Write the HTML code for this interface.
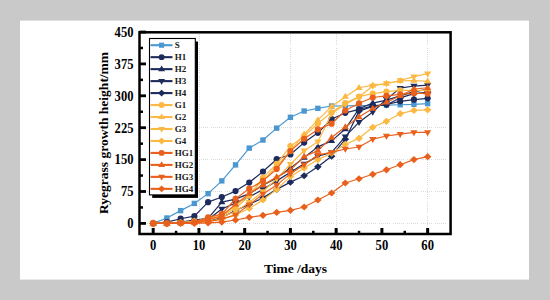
<!DOCTYPE html>
<html><head><meta charset="utf-8"><style>
html,body{margin:0;padding:0;width:550px;height:300px;overflow:hidden;background:#c9c9c9;}
svg{display:block;}
</style></head><body><svg width="550" height="300" viewBox="0 0 550 300"><rect x="0" y="0" width="550" height="300" fill="#c9c9c9"/><rect x="20" y="20.6" width="509" height="259" fill="#fff"/><g stroke="#dadada" stroke-width="1" stroke-dasharray="1 1 1 1 1 1 1 1 1 1 1 3"><line x1="199.5" y1="34" x2="199.5" y2="233"/><line x1="290.5" y1="34" x2="290.5" y2="233"/><line x1="336.5" y1="34" x2="336.5" y2="233"/><line x1="427.5" y1="34" x2="427.5" y2="233"/><line x1="141" y1="127.5" x2="449" y2="127.5"/><line x1="141" y1="159.5" x2="449" y2="159.5"/><line x1="141" y1="191.5" x2="449" y2="191.5"/><line x1="141" y1="223.5" x2="449" y2="223.5"/></g><polyline points="153.20,223.40 166.92,218.00 180.64,210.64 194.37,203.41 208.09,193.63 221.81,180.87 235.53,164.92 249.25,148.12 262.98,140.04 276.70,128.13 290.42,117.29 304.14,110.99 317.86,108.36 331.59,106.02 345.31,105.80 359.03,105.59 372.75,105.59 386.47,105.17 400.20,104.74 413.92,104.32 427.64,103.59" fill="none" stroke="#4b97d0" stroke-width="1.2" stroke-linejoin="round"/><rect x="150.50" y="220.70" width="5.40" height="5.40" fill="#4b97d0"/><rect x="164.22" y="215.30" width="5.40" height="5.40" fill="#4b97d0"/><rect x="177.94" y="207.94" width="5.40" height="5.40" fill="#4b97d0"/><rect x="191.67" y="200.71" width="5.40" height="5.40" fill="#4b97d0"/><rect x="205.39" y="190.93" width="5.40" height="5.40" fill="#4b97d0"/><rect x="219.11" y="178.17" width="5.40" height="5.40" fill="#4b97d0"/><rect x="232.83" y="162.22" width="5.40" height="5.40" fill="#4b97d0"/><rect x="246.55" y="145.42" width="5.40" height="5.40" fill="#4b97d0"/><rect x="260.28" y="137.34" width="5.40" height="5.40" fill="#4b97d0"/><rect x="274.00" y="125.43" width="5.40" height="5.40" fill="#4b97d0"/><rect x="287.72" y="114.59" width="5.40" height="5.40" fill="#4b97d0"/><rect x="301.44" y="108.29" width="5.40" height="5.40" fill="#4b97d0"/><rect x="315.16" y="105.66" width="5.40" height="5.40" fill="#4b97d0"/><rect x="328.89" y="103.32" width="5.40" height="5.40" fill="#4b97d0"/><rect x="342.61" y="103.10" width="5.40" height="5.40" fill="#4b97d0"/><rect x="356.33" y="102.89" width="5.40" height="5.40" fill="#4b97d0"/><rect x="370.05" y="102.89" width="5.40" height="5.40" fill="#4b97d0"/><rect x="383.77" y="102.47" width="5.40" height="5.40" fill="#4b97d0"/><rect x="397.50" y="102.04" width="5.40" height="5.40" fill="#4b97d0"/><rect x="411.22" y="101.62" width="5.40" height="5.40" fill="#4b97d0"/><rect x="424.94" y="100.89" width="5.40" height="5.40" fill="#4b97d0"/><polyline points="153.20,223.40 166.92,222.12 180.64,218.72 194.37,216.17 208.09,202.13 221.81,197.03 235.53,191.08 249.25,182.57 262.98,171.51 276.70,159.18 290.42,154.50 304.14,142.59 317.86,132.81 331.59,119.20 345.31,112.82 359.03,109.42 372.75,106.02 386.47,104.32 400.20,101.34 413.92,99.64 427.64,98.36" fill="none" stroke="#1c2b5c" stroke-width="1.2" stroke-linejoin="round"/><circle cx="153.20" cy="223.40" r="3.10" fill="#1c2b5c"/><circle cx="166.92" cy="222.12" r="3.10" fill="#1c2b5c"/><circle cx="180.64" cy="218.72" r="3.10" fill="#1c2b5c"/><circle cx="194.37" cy="216.17" r="3.10" fill="#1c2b5c"/><circle cx="208.09" cy="202.13" r="3.10" fill="#1c2b5c"/><circle cx="221.81" cy="197.03" r="3.10" fill="#1c2b5c"/><circle cx="235.53" cy="191.08" r="3.10" fill="#1c2b5c"/><circle cx="249.25" cy="182.57" r="3.10" fill="#1c2b5c"/><circle cx="262.98" cy="171.51" r="3.10" fill="#1c2b5c"/><circle cx="276.70" cy="159.18" r="3.10" fill="#1c2b5c"/><circle cx="290.42" cy="154.50" r="3.10" fill="#1c2b5c"/><circle cx="304.14" cy="142.59" r="3.10" fill="#1c2b5c"/><circle cx="317.86" cy="132.81" r="3.10" fill="#1c2b5c"/><circle cx="331.59" cy="119.20" r="3.10" fill="#1c2b5c"/><circle cx="345.31" cy="112.82" r="3.10" fill="#1c2b5c"/><circle cx="359.03" cy="109.42" r="3.10" fill="#1c2b5c"/><circle cx="372.75" cy="106.02" r="3.10" fill="#1c2b5c"/><circle cx="386.47" cy="104.32" r="3.10" fill="#1c2b5c"/><circle cx="400.20" cy="101.34" r="3.10" fill="#1c2b5c"/><circle cx="413.92" cy="99.64" r="3.10" fill="#1c2b5c"/><circle cx="427.64" cy="98.36" r="3.10" fill="#1c2b5c"/><polyline points="153.20,223.40 166.92,223.40 180.64,222.12 194.37,220.00 208.09,218.30 221.81,202.13 235.53,199.16 249.25,193.63 262.98,185.12 276.70,177.89 290.42,168.11 304.14,157.48 317.86,146.85 331.59,140.89 345.31,128.98 359.03,108.57 372.75,103.04 386.47,100.06 400.20,95.81 413.92,91.56 427.64,89.43" fill="none" stroke="#1c2b5c" stroke-width="1.2" stroke-linejoin="round"/><path d="M153.20 219.60L156.80 225.60L149.60 225.60Z" fill="#1c2b5c"/><path d="M166.92 219.60L170.52 225.60L163.32 225.60Z" fill="#1c2b5c"/><path d="M180.64 218.32L184.24 224.32L177.04 224.32Z" fill="#1c2b5c"/><path d="M194.37 216.20L197.97 222.20L190.77 222.20Z" fill="#1c2b5c"/><path d="M208.09 214.50L211.69 220.50L204.49 220.50Z" fill="#1c2b5c"/><path d="M221.81 198.33L225.41 204.33L218.21 204.33Z" fill="#1c2b5c"/><path d="M235.53 195.36L239.13 201.36L231.93 201.36Z" fill="#1c2b5c"/><path d="M249.25 189.83L252.85 195.83L245.65 195.83Z" fill="#1c2b5c"/><path d="M262.98 181.32L266.58 187.32L259.38 187.32Z" fill="#1c2b5c"/><path d="M276.70 174.09L280.30 180.09L273.10 180.09Z" fill="#1c2b5c"/><path d="M290.42 164.31L294.02 170.31L286.82 170.31Z" fill="#1c2b5c"/><path d="M304.14 153.68L307.74 159.68L300.54 159.68Z" fill="#1c2b5c"/><path d="M317.86 143.05L321.46 149.05L314.26 149.05Z" fill="#1c2b5c"/><path d="M331.59 137.09L335.19 143.09L327.99 143.09Z" fill="#1c2b5c"/><path d="M345.31 125.18L348.91 131.18L341.71 131.18Z" fill="#1c2b5c"/><path d="M359.03 104.77L362.63 110.77L355.43 110.77Z" fill="#1c2b5c"/><path d="M372.75 99.24L376.35 105.24L369.15 105.24Z" fill="#1c2b5c"/><path d="M386.47 96.26L390.07 102.26L382.87 102.26Z" fill="#1c2b5c"/><path d="M400.20 92.01L403.80 98.01L396.60 98.01Z" fill="#1c2b5c"/><path d="M413.92 87.76L417.52 93.76L410.32 93.76Z" fill="#1c2b5c"/><path d="M427.64 85.63L431.24 91.63L424.04 91.63Z" fill="#1c2b5c"/><polyline points="153.20,223.40 166.92,223.40 180.64,222.55 194.37,220.85 208.09,219.57 221.81,208.94 235.53,202.99 249.25,197.03 262.98,189.38 276.70,180.87 290.42,172.36 304.14,163.86 317.86,156.20 331.59,152.37 345.31,136.64 359.03,122.18 372.75,111.97 386.47,99.21 400.20,88.15 413.92,86.03 427.64,85.18" fill="none" stroke="#1c2b5c" stroke-width="1.2" stroke-linejoin="round"/><path d="M153.20 227.20L156.80 221.20L149.60 221.20Z" fill="#1c2b5c"/><path d="M166.92 227.20L170.52 221.20L163.32 221.20Z" fill="#1c2b5c"/><path d="M180.64 226.35L184.24 220.35L177.04 220.35Z" fill="#1c2b5c"/><path d="M194.37 224.65L197.97 218.65L190.77 218.65Z" fill="#1c2b5c"/><path d="M208.09 223.37L211.69 217.37L204.49 217.37Z" fill="#1c2b5c"/><path d="M221.81 212.74L225.41 206.74L218.21 206.74Z" fill="#1c2b5c"/><path d="M235.53 206.79L239.13 200.79L231.93 200.79Z" fill="#1c2b5c"/><path d="M249.25 200.83L252.85 194.83L245.65 194.83Z" fill="#1c2b5c"/><path d="M262.98 193.18L266.58 187.18L259.38 187.18Z" fill="#1c2b5c"/><path d="M276.70 184.67L280.30 178.67L273.10 178.67Z" fill="#1c2b5c"/><path d="M290.42 176.16L294.02 170.16L286.82 170.16Z" fill="#1c2b5c"/><path d="M304.14 167.66L307.74 161.66L300.54 161.66Z" fill="#1c2b5c"/><path d="M317.86 160.00L321.46 154.00L314.26 154.00Z" fill="#1c2b5c"/><path d="M331.59 156.17L335.19 150.17L327.99 150.17Z" fill="#1c2b5c"/><path d="M345.31 140.44L348.91 134.44L341.71 134.44Z" fill="#1c2b5c"/><path d="M359.03 125.98L362.63 119.98L355.43 119.98Z" fill="#1c2b5c"/><path d="M372.75 115.77L376.35 109.77L369.15 109.77Z" fill="#1c2b5c"/><path d="M386.47 103.01L390.07 97.01L382.87 97.01Z" fill="#1c2b5c"/><path d="M400.20 91.95L403.80 85.95L396.60 85.95Z" fill="#1c2b5c"/><path d="M413.92 89.83L417.52 83.83L410.32 83.83Z" fill="#1c2b5c"/><path d="M427.64 88.98L431.24 82.98L424.04 82.98Z" fill="#1c2b5c"/><polyline points="153.20,223.40 166.92,223.40 180.64,222.55 194.37,221.70 208.09,221.27 221.81,217.45 235.53,210.64 249.25,204.26 262.98,197.88 276.70,189.38 290.42,182.15 304.14,175.77 317.86,166.84 331.59,156.20 345.31,139.19 359.03,111.12 372.75,106.44 386.47,104.74 400.20,97.94 413.92,93.68 427.64,92.41" fill="none" stroke="#1c2b5c" stroke-width="1.2" stroke-linejoin="round"/><path d="M153.20 219.80L157.00 223.40L153.20 227.00L149.40 223.40Z" fill="#1c2b5c"/><path d="M166.92 219.80L170.72 223.40L166.92 227.00L163.12 223.40Z" fill="#1c2b5c"/><path d="M180.64 218.95L184.44 222.55L180.64 226.15L176.84 222.55Z" fill="#1c2b5c"/><path d="M194.37 218.10L198.17 221.70L194.37 225.30L190.57 221.70Z" fill="#1c2b5c"/><path d="M208.09 217.67L211.89 221.27L208.09 224.87L204.29 221.27Z" fill="#1c2b5c"/><path d="M221.81 213.85L225.61 217.45L221.81 221.05L218.01 217.45Z" fill="#1c2b5c"/><path d="M235.53 207.04L239.33 210.64L235.53 214.24L231.73 210.64Z" fill="#1c2b5c"/><path d="M249.25 200.66L253.05 204.26L249.25 207.86L245.45 204.26Z" fill="#1c2b5c"/><path d="M262.98 194.28L266.78 197.88L262.98 201.48L259.18 197.88Z" fill="#1c2b5c"/><path d="M276.70 185.78L280.50 189.38L276.70 192.98L272.90 189.38Z" fill="#1c2b5c"/><path d="M290.42 178.55L294.22 182.15L290.42 185.75L286.62 182.15Z" fill="#1c2b5c"/><path d="M304.14 172.17L307.94 175.77L304.14 179.37L300.34 175.77Z" fill="#1c2b5c"/><path d="M317.86 163.24L321.66 166.84L317.86 170.44L314.06 166.84Z" fill="#1c2b5c"/><path d="M331.59 152.60L335.39 156.20L331.59 159.80L327.79 156.20Z" fill="#1c2b5c"/><path d="M345.31 135.59L349.11 139.19L345.31 142.79L341.51 139.19Z" fill="#1c2b5c"/><path d="M359.03 107.52L362.83 111.12L359.03 114.72L355.23 111.12Z" fill="#1c2b5c"/><path d="M372.75 102.84L376.55 106.44L372.75 110.04L368.95 106.44Z" fill="#1c2b5c"/><path d="M386.47 101.14L390.27 104.74L386.47 108.34L382.67 104.74Z" fill="#1c2b5c"/><path d="M400.20 94.34L404.00 97.94L400.20 101.54L396.40 97.94Z" fill="#1c2b5c"/><path d="M413.92 90.08L417.72 93.68L413.92 97.28L410.12 93.68Z" fill="#1c2b5c"/><path d="M427.64 88.81L431.44 92.41L427.64 96.01L423.84 92.41Z" fill="#1c2b5c"/><polyline points="153.20,223.40 166.92,223.40 180.64,222.55 194.37,221.27 208.09,219.15 221.81,215.74 235.53,208.51 249.25,195.76 262.98,177.60 276.70,163.86 290.42,146.21 304.14,136.21 317.86,123.45 331.59,112.40 345.31,103.04 359.03,96.66 372.75,93.68 386.47,91.56 400.20,90.28 413.92,90.28 427.64,90.28" fill="none" stroke="#fbb843" stroke-width="1.2" stroke-linejoin="round"/><circle cx="153.20" cy="223.40" r="3.10" fill="#fbb843"/><circle cx="166.92" cy="223.40" r="3.10" fill="#fbb843"/><circle cx="180.64" cy="222.55" r="3.10" fill="#fbb843"/><circle cx="194.37" cy="221.27" r="3.10" fill="#fbb843"/><circle cx="208.09" cy="219.15" r="3.10" fill="#fbb843"/><circle cx="221.81" cy="215.74" r="3.10" fill="#fbb843"/><circle cx="235.53" cy="208.51" r="3.10" fill="#fbb843"/><circle cx="249.25" cy="195.76" r="3.10" fill="#fbb843"/><circle cx="262.98" cy="177.60" r="3.10" fill="#fbb843"/><circle cx="276.70" cy="163.86" r="3.10" fill="#fbb843"/><circle cx="290.42" cy="146.21" r="3.10" fill="#fbb843"/><circle cx="304.14" cy="136.21" r="3.10" fill="#fbb843"/><circle cx="317.86" cy="123.45" r="3.10" fill="#fbb843"/><circle cx="331.59" cy="112.40" r="3.10" fill="#fbb843"/><circle cx="345.31" cy="103.04" r="3.10" fill="#fbb843"/><circle cx="359.03" cy="96.66" r="3.10" fill="#fbb843"/><circle cx="372.75" cy="93.68" r="3.10" fill="#fbb843"/><circle cx="386.47" cy="91.56" r="3.10" fill="#fbb843"/><circle cx="400.20" cy="90.28" r="3.10" fill="#fbb843"/><circle cx="413.92" cy="90.28" r="3.10" fill="#fbb843"/><circle cx="427.64" cy="90.28" r="3.10" fill="#fbb843"/><polyline points="153.20,223.40 166.92,223.40 180.64,222.55 194.37,221.27 208.09,218.30 221.81,214.04 235.53,206.39 249.25,193.63 262.98,180.87 276.70,165.98 290.42,151.10 304.14,134.21 317.86,120.05 331.59,106.44 345.31,96.66 359.03,87.73 372.75,85.18 386.47,83.48 400.20,80.92 413.92,80.50 427.64,81.35" fill="none" stroke="#fbb843" stroke-width="1.2" stroke-linejoin="round"/><path d="M153.20 219.60L156.80 225.60L149.60 225.60Z" fill="#fbb843"/><path d="M166.92 219.60L170.52 225.60L163.32 225.60Z" fill="#fbb843"/><path d="M180.64 218.75L184.24 224.75L177.04 224.75Z" fill="#fbb843"/><path d="M194.37 217.47L197.97 223.47L190.77 223.47Z" fill="#fbb843"/><path d="M208.09 214.50L211.69 220.50L204.49 220.50Z" fill="#fbb843"/><path d="M221.81 210.24L225.41 216.24L218.21 216.24Z" fill="#fbb843"/><path d="M235.53 202.59L239.13 208.59L231.93 208.59Z" fill="#fbb843"/><path d="M249.25 189.83L252.85 195.83L245.65 195.83Z" fill="#fbb843"/><path d="M262.98 177.07L266.58 183.07L259.38 183.07Z" fill="#fbb843"/><path d="M276.70 162.18L280.30 168.18L273.10 168.18Z" fill="#fbb843"/><path d="M290.42 147.30L294.02 153.30L286.82 153.30Z" fill="#fbb843"/><path d="M304.14 130.41L307.74 136.41L300.54 136.41Z" fill="#fbb843"/><path d="M317.86 116.25L321.46 122.25L314.26 122.25Z" fill="#fbb843"/><path d="M331.59 102.64L335.19 108.64L327.99 108.64Z" fill="#fbb843"/><path d="M345.31 92.86L348.91 98.86L341.71 98.86Z" fill="#fbb843"/><path d="M359.03 83.93L362.63 89.93L355.43 89.93Z" fill="#fbb843"/><path d="M372.75 81.38L376.35 87.38L369.15 87.38Z" fill="#fbb843"/><path d="M386.47 79.68L390.07 85.68L382.87 85.68Z" fill="#fbb843"/><path d="M400.20 77.12L403.80 83.12L396.60 83.12Z" fill="#fbb843"/><path d="M413.92 76.70L417.52 82.70L410.32 82.70Z" fill="#fbb843"/><path d="M427.64 77.55L431.24 83.55L424.04 83.55Z" fill="#fbb843"/><polyline points="153.20,223.40 166.92,223.40 180.64,222.97 194.37,222.12 208.09,220.00 221.81,217.02 235.53,211.49 249.25,202.13 262.98,191.50 276.70,178.74 290.42,164.28 304.14,150.67 317.86,141.74 331.59,113.67 345.31,104.32 359.03,97.09 372.75,86.03 386.47,83.48 400.20,80.50 413.92,76.67 427.64,73.69" fill="none" stroke="#fbb843" stroke-width="1.2" stroke-linejoin="round"/><path d="M153.20 227.20L156.80 221.20L149.60 221.20Z" fill="#fbb843"/><path d="M166.92 227.20L170.52 221.20L163.32 221.20Z" fill="#fbb843"/><path d="M180.64 226.77L184.24 220.77L177.04 220.77Z" fill="#fbb843"/><path d="M194.37 225.92L197.97 219.92L190.77 219.92Z" fill="#fbb843"/><path d="M208.09 223.80L211.69 217.80L204.49 217.80Z" fill="#fbb843"/><path d="M221.81 220.82L225.41 214.82L218.21 214.82Z" fill="#fbb843"/><path d="M235.53 215.29L239.13 209.29L231.93 209.29Z" fill="#fbb843"/><path d="M249.25 205.94L252.85 199.94L245.65 199.94Z" fill="#fbb843"/><path d="M262.98 195.30L266.58 189.30L259.38 189.30Z" fill="#fbb843"/><path d="M276.70 182.54L280.30 176.54L273.10 176.54Z" fill="#fbb843"/><path d="M290.42 168.08L294.02 162.08L286.82 162.08Z" fill="#fbb843"/><path d="M304.14 154.47L307.74 148.47L300.54 148.47Z" fill="#fbb843"/><path d="M317.86 145.54L321.46 139.54L314.26 139.54Z" fill="#fbb843"/><path d="M331.59 117.47L335.19 111.47L327.99 111.47Z" fill="#fbb843"/><path d="M345.31 108.12L348.91 102.12L341.71 102.12Z" fill="#fbb843"/><path d="M359.03 100.89L362.63 94.89L355.43 94.89Z" fill="#fbb843"/><path d="M372.75 89.83L376.35 83.83L369.15 83.83Z" fill="#fbb843"/><path d="M386.47 87.28L390.07 81.28L382.87 81.28Z" fill="#fbb843"/><path d="M400.20 84.30L403.80 78.30L396.60 78.30Z" fill="#fbb843"/><path d="M413.92 80.47L417.52 74.47L410.32 74.47Z" fill="#fbb843"/><path d="M427.64 77.49L431.24 71.49L424.04 71.49Z" fill="#fbb843"/><polyline points="153.20,223.40 166.92,223.40 180.64,222.97 194.37,222.55 208.09,221.27 221.81,219.15 235.53,214.89 249.25,208.51 262.98,200.01 276.70,189.38 290.42,176.62 304.14,168.11 317.86,159.61 331.59,153.23 345.31,144.29 359.03,138.34 372.75,127.28 386.47,121.33 400.20,113.67 413.92,110.40 427.64,109.84" fill="none" stroke="#fbb843" stroke-width="1.2" stroke-linejoin="round"/><path d="M153.20 219.80L157.00 223.40L153.20 227.00L149.40 223.40Z" fill="#fbb843"/><path d="M166.92 219.80L170.72 223.40L166.92 227.00L163.12 223.40Z" fill="#fbb843"/><path d="M180.64 219.37L184.44 222.97L180.64 226.57L176.84 222.97Z" fill="#fbb843"/><path d="M194.37 218.95L198.17 222.55L194.37 226.15L190.57 222.55Z" fill="#fbb843"/><path d="M208.09 217.67L211.89 221.27L208.09 224.87L204.29 221.27Z" fill="#fbb843"/><path d="M221.81 215.55L225.61 219.15L221.81 222.75L218.01 219.15Z" fill="#fbb843"/><path d="M235.53 211.29L239.33 214.89L235.53 218.49L231.73 214.89Z" fill="#fbb843"/><path d="M249.25 204.91L253.05 208.51L249.25 212.11L245.45 208.51Z" fill="#fbb843"/><path d="M262.98 196.41L266.78 200.01L262.98 203.61L259.18 200.01Z" fill="#fbb843"/><path d="M276.70 185.78L280.50 189.38L276.70 192.98L272.90 189.38Z" fill="#fbb843"/><path d="M290.42 173.02L294.22 176.62L290.42 180.22L286.62 176.62Z" fill="#fbb843"/><path d="M304.14 164.51L307.94 168.11L304.14 171.71L300.34 168.11Z" fill="#fbb843"/><path d="M317.86 156.01L321.66 159.61L317.86 163.21L314.06 159.61Z" fill="#fbb843"/><path d="M331.59 149.63L335.39 153.23L331.59 156.83L327.79 153.23Z" fill="#fbb843"/><path d="M345.31 140.69L349.11 144.29L345.31 147.89L341.51 144.29Z" fill="#fbb843"/><path d="M359.03 134.74L362.83 138.34L359.03 141.94L355.23 138.34Z" fill="#fbb843"/><path d="M372.75 123.68L376.55 127.28L372.75 130.88L368.95 127.28Z" fill="#fbb843"/><path d="M386.47 117.73L390.27 121.33L386.47 124.93L382.67 121.33Z" fill="#fbb843"/><path d="M400.20 110.07L404.00 113.67L400.20 117.27L396.40 113.67Z" fill="#fbb843"/><path d="M413.92 106.80L417.72 110.40L413.92 114.00L410.12 110.40Z" fill="#fbb843"/><path d="M427.64 106.24L431.44 109.84L427.64 113.44L423.84 109.84Z" fill="#fbb843"/><polyline points="153.20,223.40 166.92,223.40 180.64,222.97 194.37,222.12 208.09,217.45 221.81,214.04 235.53,198.73 249.25,188.70 262.98,180.87 276.70,168.96 290.42,151.10 304.14,138.77 317.86,129.41 331.59,123.71 345.31,110.48 359.03,103.25 372.75,97.51 386.47,95.81 400.20,94.28 413.92,93.26 427.64,93.68" fill="none" stroke="#e8601c" stroke-width="1.2" stroke-linejoin="round"/><circle cx="153.20" cy="223.40" r="3.10" fill="#e8601c"/><circle cx="166.92" cy="223.40" r="3.10" fill="#e8601c"/><circle cx="180.64" cy="222.97" r="3.10" fill="#e8601c"/><circle cx="194.37" cy="222.12" r="3.10" fill="#e8601c"/><circle cx="208.09" cy="217.45" r="3.10" fill="#e8601c"/><circle cx="221.81" cy="214.04" r="3.10" fill="#e8601c"/><circle cx="235.53" cy="198.73" r="3.10" fill="#e8601c"/><circle cx="249.25" cy="188.70" r="3.10" fill="#e8601c"/><circle cx="262.98" cy="180.87" r="3.10" fill="#e8601c"/><circle cx="276.70" cy="168.96" r="3.10" fill="#e8601c"/><circle cx="290.42" cy="151.10" r="3.10" fill="#e8601c"/><circle cx="304.14" cy="138.77" r="3.10" fill="#e8601c"/><circle cx="317.86" cy="129.41" r="3.10" fill="#e8601c"/><circle cx="331.59" cy="123.71" r="3.10" fill="#e8601c"/><circle cx="345.31" cy="110.48" r="3.10" fill="#e8601c"/><circle cx="359.03" cy="103.25" r="3.10" fill="#e8601c"/><circle cx="372.75" cy="97.51" r="3.10" fill="#e8601c"/><circle cx="386.47" cy="95.81" r="3.10" fill="#e8601c"/><circle cx="400.20" cy="94.28" r="3.10" fill="#e8601c"/><circle cx="413.92" cy="93.26" r="3.10" fill="#e8601c"/><circle cx="427.64" cy="93.68" r="3.10" fill="#e8601c"/><polyline points="153.20,223.40 166.92,223.40 180.64,222.97 194.37,222.55 208.09,219.15 221.81,216.17 235.53,204.26 249.25,193.63 262.98,185.12 276.70,177.04 290.42,169.81 304.14,156.63 317.86,150.67 331.59,137.49 345.31,127.03 359.03,117.08 372.75,108.57 386.47,102.19 400.20,95.81 413.92,89.01 427.64,87.73" fill="none" stroke="#e8601c" stroke-width="1.2" stroke-linejoin="round"/><path d="M153.20 219.60L156.80 225.60L149.60 225.60Z" fill="#e8601c"/><path d="M166.92 219.60L170.52 225.60L163.32 225.60Z" fill="#e8601c"/><path d="M180.64 219.17L184.24 225.17L177.04 225.17Z" fill="#e8601c"/><path d="M194.37 218.75L197.97 224.75L190.77 224.75Z" fill="#e8601c"/><path d="M208.09 215.35L211.69 221.35L204.49 221.35Z" fill="#e8601c"/><path d="M221.81 212.37L225.41 218.37L218.21 218.37Z" fill="#e8601c"/><path d="M235.53 200.46L239.13 206.46L231.93 206.46Z" fill="#e8601c"/><path d="M249.25 189.83L252.85 195.83L245.65 195.83Z" fill="#e8601c"/><path d="M262.98 181.32L266.58 187.32L259.38 187.32Z" fill="#e8601c"/><path d="M276.70 173.24L280.30 179.24L273.10 179.24Z" fill="#e8601c"/><path d="M290.42 166.01L294.02 172.01L286.82 172.01Z" fill="#e8601c"/><path d="M304.14 152.83L307.74 158.83L300.54 158.83Z" fill="#e8601c"/><path d="M317.86 146.87L321.46 152.87L314.26 152.87Z" fill="#e8601c"/><path d="M331.59 133.69L335.19 139.69L327.99 139.69Z" fill="#e8601c"/><path d="M345.31 123.23L348.91 129.23L341.71 129.23Z" fill="#e8601c"/><path d="M359.03 113.28L362.63 119.28L355.43 119.28Z" fill="#e8601c"/><path d="M372.75 104.77L376.35 110.77L369.15 110.77Z" fill="#e8601c"/><path d="M386.47 98.39L390.07 104.39L382.87 104.39Z" fill="#e8601c"/><path d="M400.20 92.01L403.80 98.01L396.60 98.01Z" fill="#e8601c"/><path d="M413.92 85.21L417.52 91.21L410.32 91.21Z" fill="#e8601c"/><path d="M427.64 83.93L431.24 89.93L424.04 89.93Z" fill="#e8601c"/><polyline points="153.20,223.40 166.92,223.40 180.64,222.97 194.37,222.55 208.09,221.70 221.81,219.15 235.53,214.89 249.25,204.69 262.98,194.05 276.70,185.12 290.42,173.64 304.14,164.71 317.86,154.93 331.59,152.37 345.31,148.97 359.03,147.02 372.75,139.19 386.47,136.00 400.20,134.09 413.92,132.39 427.64,132.39" fill="none" stroke="#e8601c" stroke-width="1.2" stroke-linejoin="round"/><path d="M153.20 227.20L156.80 221.20L149.60 221.20Z" fill="#e8601c"/><path d="M166.92 227.20L170.52 221.20L163.32 221.20Z" fill="#e8601c"/><path d="M180.64 226.77L184.24 220.77L177.04 220.77Z" fill="#e8601c"/><path d="M194.37 226.35L197.97 220.35L190.77 220.35Z" fill="#e8601c"/><path d="M208.09 225.50L211.69 219.50L204.49 219.50Z" fill="#e8601c"/><path d="M221.81 222.95L225.41 216.95L218.21 216.95Z" fill="#e8601c"/><path d="M235.53 218.69L239.13 212.69L231.93 212.69Z" fill="#e8601c"/><path d="M249.25 208.49L252.85 202.49L245.65 202.49Z" fill="#e8601c"/><path d="M262.98 197.85L266.58 191.85L259.38 191.85Z" fill="#e8601c"/><path d="M276.70 188.92L280.30 182.92L273.10 182.92Z" fill="#e8601c"/><path d="M290.42 177.44L294.02 171.44L286.82 171.44Z" fill="#e8601c"/><path d="M304.14 168.51L307.74 162.51L300.54 162.51Z" fill="#e8601c"/><path d="M317.86 158.73L321.46 152.73L314.26 152.73Z" fill="#e8601c"/><path d="M331.59 156.17L335.19 150.17L327.99 150.17Z" fill="#e8601c"/><path d="M345.31 152.77L348.91 146.77L341.71 146.77Z" fill="#e8601c"/><path d="M359.03 150.82L362.63 144.82L355.43 144.82Z" fill="#e8601c"/><path d="M372.75 142.99L376.35 136.99L369.15 136.99Z" fill="#e8601c"/><path d="M386.47 139.80L390.07 133.80L382.87 133.80Z" fill="#e8601c"/><path d="M400.20 137.89L403.80 131.89L396.60 131.89Z" fill="#e8601c"/><path d="M413.92 136.19L417.52 130.19L410.32 130.19Z" fill="#e8601c"/><path d="M427.64 136.19L431.24 130.19L424.04 130.19Z" fill="#e8601c"/><polyline points="153.20,223.40 166.92,223.40 180.64,223.40 194.37,223.40 208.09,222.97 221.81,222.12 235.53,220.00 249.25,217.32 262.98,215.32 276.70,212.38 290.42,210.30 304.14,206.98 317.86,200.01 331.59,192.99 345.31,183.00 359.03,178.74 372.75,174.28 386.47,169.81 400.20,164.71 413.92,159.61 427.64,156.63" fill="none" stroke="#e8601c" stroke-width="1.2" stroke-linejoin="round"/><path d="M153.20 219.80L157.00 223.40L153.20 227.00L149.40 223.40Z" fill="#e8601c"/><path d="M166.92 219.80L170.72 223.40L166.92 227.00L163.12 223.40Z" fill="#e8601c"/><path d="M180.64 219.80L184.44 223.40L180.64 227.00L176.84 223.40Z" fill="#e8601c"/><path d="M194.37 219.80L198.17 223.40L194.37 227.00L190.57 223.40Z" fill="#e8601c"/><path d="M208.09 219.37L211.89 222.97L208.09 226.57L204.29 222.97Z" fill="#e8601c"/><path d="M221.81 218.52L225.61 222.12L221.81 225.72L218.01 222.12Z" fill="#e8601c"/><path d="M235.53 216.40L239.33 220.00L235.53 223.60L231.73 220.00Z" fill="#e8601c"/><path d="M249.25 213.72L253.05 217.32L249.25 220.92L245.45 217.32Z" fill="#e8601c"/><path d="M262.98 211.72L266.78 215.32L262.98 218.92L259.18 215.32Z" fill="#e8601c"/><path d="M276.70 208.78L280.50 212.38L276.70 215.98L272.90 212.38Z" fill="#e8601c"/><path d="M290.42 206.70L294.22 210.30L290.42 213.90L286.62 210.30Z" fill="#e8601c"/><path d="M304.14 203.38L307.94 206.98L304.14 210.58L300.34 206.98Z" fill="#e8601c"/><path d="M317.86 196.41L321.66 200.01L317.86 203.61L314.06 200.01Z" fill="#e8601c"/><path d="M331.59 189.39L335.39 192.99L331.59 196.59L327.79 192.99Z" fill="#e8601c"/><path d="M345.31 179.40L349.11 183.00L345.31 186.60L341.51 183.00Z" fill="#e8601c"/><path d="M359.03 175.14L362.83 178.74L359.03 182.34L355.23 178.74Z" fill="#e8601c"/><path d="M372.75 170.68L376.55 174.28L372.75 177.88L368.95 174.28Z" fill="#e8601c"/><path d="M386.47 166.21L390.27 169.81L386.47 173.41L382.67 169.81Z" fill="#e8601c"/><path d="M400.20 161.11L404.00 164.71L400.20 168.31L396.40 164.71Z" fill="#e8601c"/><path d="M413.92 156.01L417.72 159.61L413.92 163.21L410.12 159.61Z" fill="#e8601c"/><path d="M427.64 153.03L431.44 156.63L427.64 160.23L423.84 156.63Z" fill="#e8601c"/><rect x="139.5" y="32.3" width="311.10" height="201.70" fill="none" stroke="#000" stroke-width="2.5"/><g stroke="#000" stroke-width="2.5"><line x1="153.20" y1="234.0" x2="153.20" y2="228.0" stroke-width="3"/><line x1="198.94" y1="234.0" x2="198.94" y2="228.0" stroke-width="3"/><line x1="244.68" y1="234.0" x2="244.68" y2="228.0" stroke-width="3"/><line x1="290.42" y1="234.0" x2="290.42" y2="228.0" stroke-width="3"/><line x1="336.16" y1="234.0" x2="336.16" y2="228.0" stroke-width="3"/><line x1="381.90" y1="234.0" x2="381.90" y2="228.0" stroke-width="3"/><line x1="427.64" y1="234.0" x2="427.64" y2="228.0" stroke-width="3"/><line x1="176.07" y1="234.0" x2="176.07" y2="230.8"/><line x1="221.81" y1="234.0" x2="221.81" y2="230.8"/><line x1="267.55" y1="234.0" x2="267.55" y2="230.8"/><line x1="313.29" y1="234.0" x2="313.29" y2="230.8"/><line x1="359.03" y1="234.0" x2="359.03" y2="230.8"/><line x1="404.77" y1="234.0" x2="404.77" y2="230.8"/><line x1="139.5" y1="223.40" x2="146.0" y2="223.40" stroke-width="2.8"/><line x1="139.5" y1="191.50" x2="146.0" y2="191.50" stroke-width="2.8"/><line x1="139.5" y1="159.61" x2="146.0" y2="159.61" stroke-width="2.8"/><line x1="139.5" y1="127.71" x2="146.0" y2="127.71" stroke-width="2.8"/><line x1="139.5" y1="95.81" x2="146.0" y2="95.81" stroke-width="2.8"/><line x1="139.5" y1="63.91" x2="146.0" y2="63.91" stroke-width="2.8"/><line x1="139.5" y1="32.02" x2="146.0" y2="32.02" stroke-width="2.8"/><line x1="139.5" y1="207.45" x2="143.0" y2="207.45"/><line x1="139.5" y1="175.55" x2="143.0" y2="175.55"/><line x1="139.5" y1="143.66" x2="143.0" y2="143.66"/><line x1="139.5" y1="111.76" x2="143.0" y2="111.76"/><line x1="139.5" y1="79.86" x2="143.0" y2="79.86"/><line x1="139.5" y1="47.96" x2="143.0" y2="47.96"/></g><g font-family="Liberation Serif" font-weight="bold" font-size="14" fill="#000"><text transform="translate(153.20,250) scale(0.9,1)" text-anchor="middle">0</text><text transform="translate(198.94,250) scale(0.9,1)" text-anchor="middle">10</text><text transform="translate(244.68,250) scale(0.9,1)" text-anchor="middle">20</text><text transform="translate(290.42,250) scale(0.9,1)" text-anchor="middle">30</text><text transform="translate(336.16,250) scale(0.9,1)" text-anchor="middle">40</text><text transform="translate(381.90,250) scale(0.9,1)" text-anchor="middle">50</text><text transform="translate(427.64,250) scale(0.9,1)" text-anchor="middle">60</text><text transform="translate(133.5,228.20) scale(0.9,1)" text-anchor="end">0</text><text transform="translate(133.5,196.30) scale(0.9,1)" text-anchor="end">75</text><text transform="translate(133.5,164.41) scale(0.9,1)" text-anchor="end">150</text><text transform="translate(133.5,132.51) scale(0.9,1)" text-anchor="end">225</text><text transform="translate(133.5,100.61) scale(0.9,1)" text-anchor="end">300</text><text transform="translate(133.5,68.71) scale(0.9,1)" text-anchor="end">375</text><text transform="translate(133.5,36.82) scale(0.9,1)" text-anchor="end">450</text></g><text x="295.5" y="272.7" text-anchor="middle" font-family="Liberation Serif" font-weight="bold" font-size="13.5">Time /days</text><text transform="translate(107.6,132.9) rotate(-90)" text-anchor="middle" font-family="Liberation Serif" font-weight="bold" font-size="13.5">Ryegrass growth height/mm</text><rect x="152.2" y="41.5" width="45.8" height="156.4" fill="#000"/><rect x="149.5" y="38.5" width="45.8" height="156.4" fill="#fff" stroke="#000" stroke-width="1.1"/><line x1="150.5" y1="45.20" x2="172.5" y2="45.20" stroke="#4b97d0" stroke-width="2.1"/><rect x="159.03" y="42.64" width="5.13" height="5.13" fill="#4b97d0"/><text x="174.8" y="48.30" font-family="Liberation Serif" font-weight="bold" font-size="9" fill="#1a1a1a">S</text><line x1="150.5" y1="57.17" x2="172.5" y2="57.17" stroke="#1c2b5c" stroke-width="2.1"/><circle cx="161.60" cy="57.17" r="2.94" fill="#1c2b5c"/><text x="174.8" y="60.27" font-family="Liberation Serif" font-weight="bold" font-size="9" fill="#1a1a1a">H1</text><line x1="150.5" y1="69.14" x2="172.5" y2="69.14" stroke="#1c2b5c" stroke-width="2.1"/><path d="M161.60 65.53L165.02 71.23L158.18 71.23Z" fill="#1c2b5c"/><text x="174.8" y="72.24" font-family="Liberation Serif" font-weight="bold" font-size="9" fill="#1a1a1a">H2</text><line x1="150.5" y1="81.11" x2="172.5" y2="81.11" stroke="#1c2b5c" stroke-width="2.1"/><path d="M161.60 84.72L165.02 79.02L158.18 79.02Z" fill="#1c2b5c"/><text x="174.8" y="84.21" font-family="Liberation Serif" font-weight="bold" font-size="9" fill="#1a1a1a">H3</text><line x1="150.5" y1="93.08" x2="172.5" y2="93.08" stroke="#1c2b5c" stroke-width="2.1"/><path d="M161.60 89.66L165.21 93.08L161.60 96.50L157.99 93.08Z" fill="#1c2b5c"/><text x="174.8" y="96.18" font-family="Liberation Serif" font-weight="bold" font-size="9" fill="#1a1a1a">H4</text><line x1="150.5" y1="105.05" x2="172.5" y2="105.05" stroke="#fbb843" stroke-width="2.1"/><circle cx="161.60" cy="105.05" r="2.94" fill="#fbb843"/><text x="174.8" y="108.15" font-family="Liberation Serif" font-weight="bold" font-size="9" fill="#1a1a1a">G1</text><line x1="150.5" y1="117.02" x2="172.5" y2="117.02" stroke="#fbb843" stroke-width="2.1"/><path d="M161.60 113.41L165.02 119.11L158.18 119.11Z" fill="#fbb843"/><text x="174.8" y="120.12" font-family="Liberation Serif" font-weight="bold" font-size="9" fill="#1a1a1a">G2</text><line x1="150.5" y1="128.99" x2="172.5" y2="128.99" stroke="#fbb843" stroke-width="2.1"/><path d="M161.60 132.60L165.02 126.90L158.18 126.90Z" fill="#fbb843"/><text x="174.8" y="132.09" font-family="Liberation Serif" font-weight="bold" font-size="9" fill="#1a1a1a">G3</text><line x1="150.5" y1="140.96" x2="172.5" y2="140.96" stroke="#fbb843" stroke-width="2.1"/><path d="M161.60 137.54L165.21 140.96L161.60 144.38L157.99 140.96Z" fill="#fbb843"/><text x="174.8" y="144.06" font-family="Liberation Serif" font-weight="bold" font-size="9" fill="#1a1a1a">G4</text><line x1="150.5" y1="152.93" x2="172.5" y2="152.93" stroke="#e8601c" stroke-width="2.1"/><circle cx="161.60" cy="152.93" r="2.94" fill="#e8601c"/><text x="174.8" y="156.03" font-family="Liberation Serif" font-weight="bold" font-size="9" fill="#1a1a1a">HG1</text><line x1="150.5" y1="164.90" x2="172.5" y2="164.90" stroke="#e8601c" stroke-width="2.1"/><path d="M161.60 161.29L165.02 166.99L158.18 166.99Z" fill="#e8601c"/><text x="174.8" y="168.00" font-family="Liberation Serif" font-weight="bold" font-size="9" fill="#1a1a1a">HG2</text><line x1="150.5" y1="176.87" x2="172.5" y2="176.87" stroke="#e8601c" stroke-width="2.1"/><path d="M161.60 180.48L165.02 174.78L158.18 174.78Z" fill="#e8601c"/><text x="174.8" y="179.97" font-family="Liberation Serif" font-weight="bold" font-size="9" fill="#1a1a1a">HG3</text><line x1="150.5" y1="188.84" x2="172.5" y2="188.84" stroke="#e8601c" stroke-width="2.1"/><path d="M161.60 185.42L165.21 188.84L161.60 192.26L157.99 188.84Z" fill="#e8601c"/><text x="174.8" y="191.94" font-family="Liberation Serif" font-weight="bold" font-size="9" fill="#1a1a1a">HG4</text></svg></body></html>
